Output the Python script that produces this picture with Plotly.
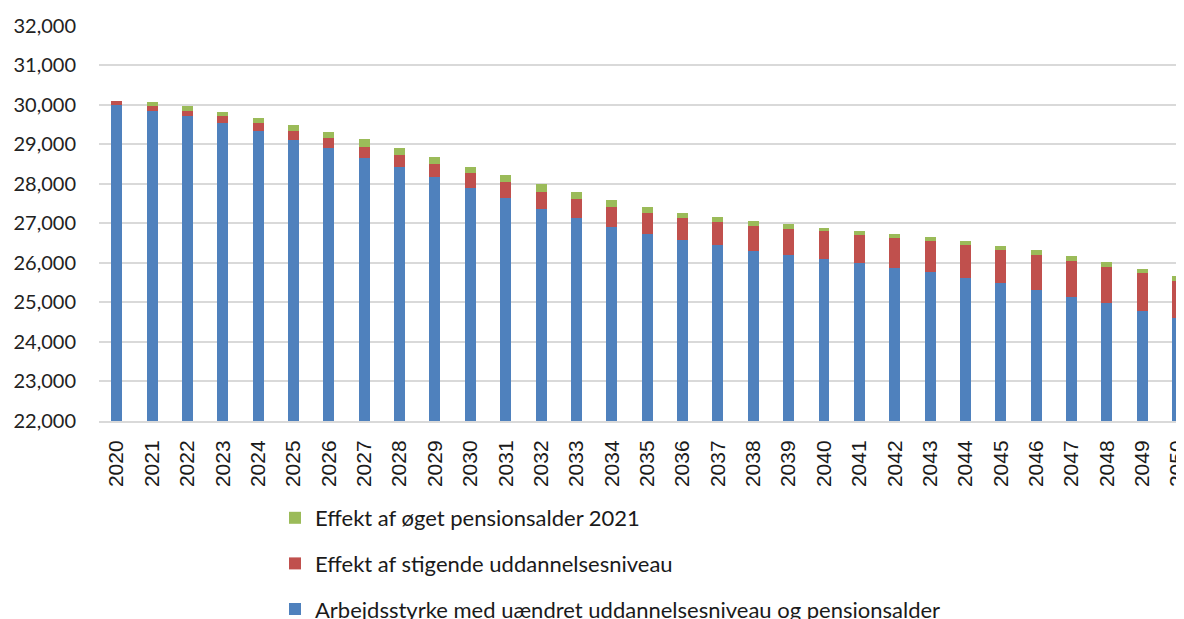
import plotly.graph_objects as go

years = [str(y) for y in range(2020, 2051)]

# arbejdsstyrke med uaendret uddannelsesniveau og pensionsalder
base = [30000, 29855, 29705, 29535, 29335, 29120, 28920, 28665, 28415, 28170,
        27890, 27640, 27375, 27145, 26910, 26725, 26570, 26450, 26305, 26205,
        26095, 26000, 25875, 25765, 25630, 25485, 25325, 25145, 24985, 24790,
        24600]
# effekt af stigende uddannelsesniveau
edu = [85, 125, 135, 170, 195, 225, 245, 280, 320, 335,
       395, 405, 430, 465, 505, 530, 560, 580, 640, 665,
       705, 715, 765, 785, 820, 845, 880, 895, 915, 945,
       945]
# effekt af oeget pensionsalder 2021
pension = [0, 100, 140, 125, 135, 150, 150, 180, 170, 170,
           150, 175, 185, 180, 170, 160, 135, 125, 120, 110,
           95, 100, 100, 100, 110, 110, 110, 135, 120, 115,
           135]

y_ticks = list(range(22000, 32001, 1000))

fig = go.Figure()
fig.add_trace(go.Bar(x=years, y=base, name="Arbejdsstyrke med uændret uddannelsesniveau og pensionsalder",
                     marker_color="#4F81BD", legendgroup="a", legendrank=3))
fig.add_trace(go.Bar(x=years, y=edu, name="Effekt af stigende uddannelsesniveau",
                     marker_color="#C0504D", legendgroup="b", legendrank=2))
fig.add_trace(go.Bar(x=years, y=pension, name="Effekt af øget pensionsalder 2021",
                     marker_color="#9BBB59", legendgroup="c", legendrank=1))

fig.update_traces(marker_line_width=0)

# page body has an 8px margin, so the figure is a bit smaller than the window
fig.update_layout(
    width=1176, height=611,
    barmode="stack", bargap=0.69,
    plot_bgcolor="white", paper_bgcolor="white",
    margin=dict(l=91, r=0, t=17, b=198, autoexpand=False),
    font=dict(family="Lato", color="#222222"),
    legend=dict(
        x=(267 - 91) / 1085, xanchor="left",
        y=(413 - 489) / 396, yanchor="top",
        traceorder="grouped",
        tracegroupgap=14,
        font=dict(family="Lato", size=22, color="#1a1a1a"),
        bgcolor="rgba(0,0,0,0)",
    ),
    showlegend=True,
)

fig.update_xaxes(
    type="category", range=[-0.5, 30.18],
    tickangle=-90, ticks="", ticklabelstandoff=9,
    tickfont=dict(family="Liberation Sans", size=21, color="#1a1a1a"),
    showgrid=False, showline=True, linecolor="#d9d9d9", linewidth=2,
)

fig.update_yaxes(
    range=[22000, 32020], tickvals=y_ticks, tickformat=",d",
    ticks="", ticklabelstandoff=22,
    tickfont=dict(family="Lato", size=20, color="#222222"),
    showgrid=True, gridcolor="#d9d9d9", gridwidth=2,
    zeroline=False, showline=False,
)

fig.write_html("out.html")
